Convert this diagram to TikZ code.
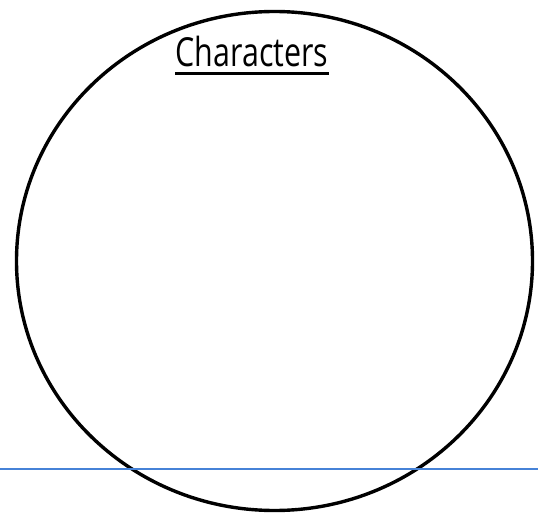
\documentclass[tikz,border=0pt]{standalone}
\usepackage{fontspec}
\setmainfont{Open Sans}
\definecolor{ruleblue}{RGB}{70,130,215}
\tikzset{
  title/.style={font=\fontsize{40}{42}\selectfont, inner sep=0pt, anchor=base},
  rim/.style={line width=3.4pt, black}
}

\begin{document}
\begin{tikzpicture}[x=1pt, y=-1pt]
  \useasboundingbox (0,0) rectangle (538,513);
  % the big circle
  \coordinate (O) at (274.5,261);
  \draw[rim] (O) ellipse [x radius=258, y radius=249.5];
  % heading
  \node[title] (head) at (252,67) {\scalebox{0.76}[1]{Characters}};
  \draw[line width=2.2pt] (head.base west) ++(0,6.5) coordinate (u1) -- (u1 -| head.base east);
  % blue rule across the page
  \coordinate (L) at (0,469);
  \coordinate (R) at (538,469);
  \draw[ruleblue, line width=2pt] (L) -- (R);
\end{tikzpicture}
\end{document}
